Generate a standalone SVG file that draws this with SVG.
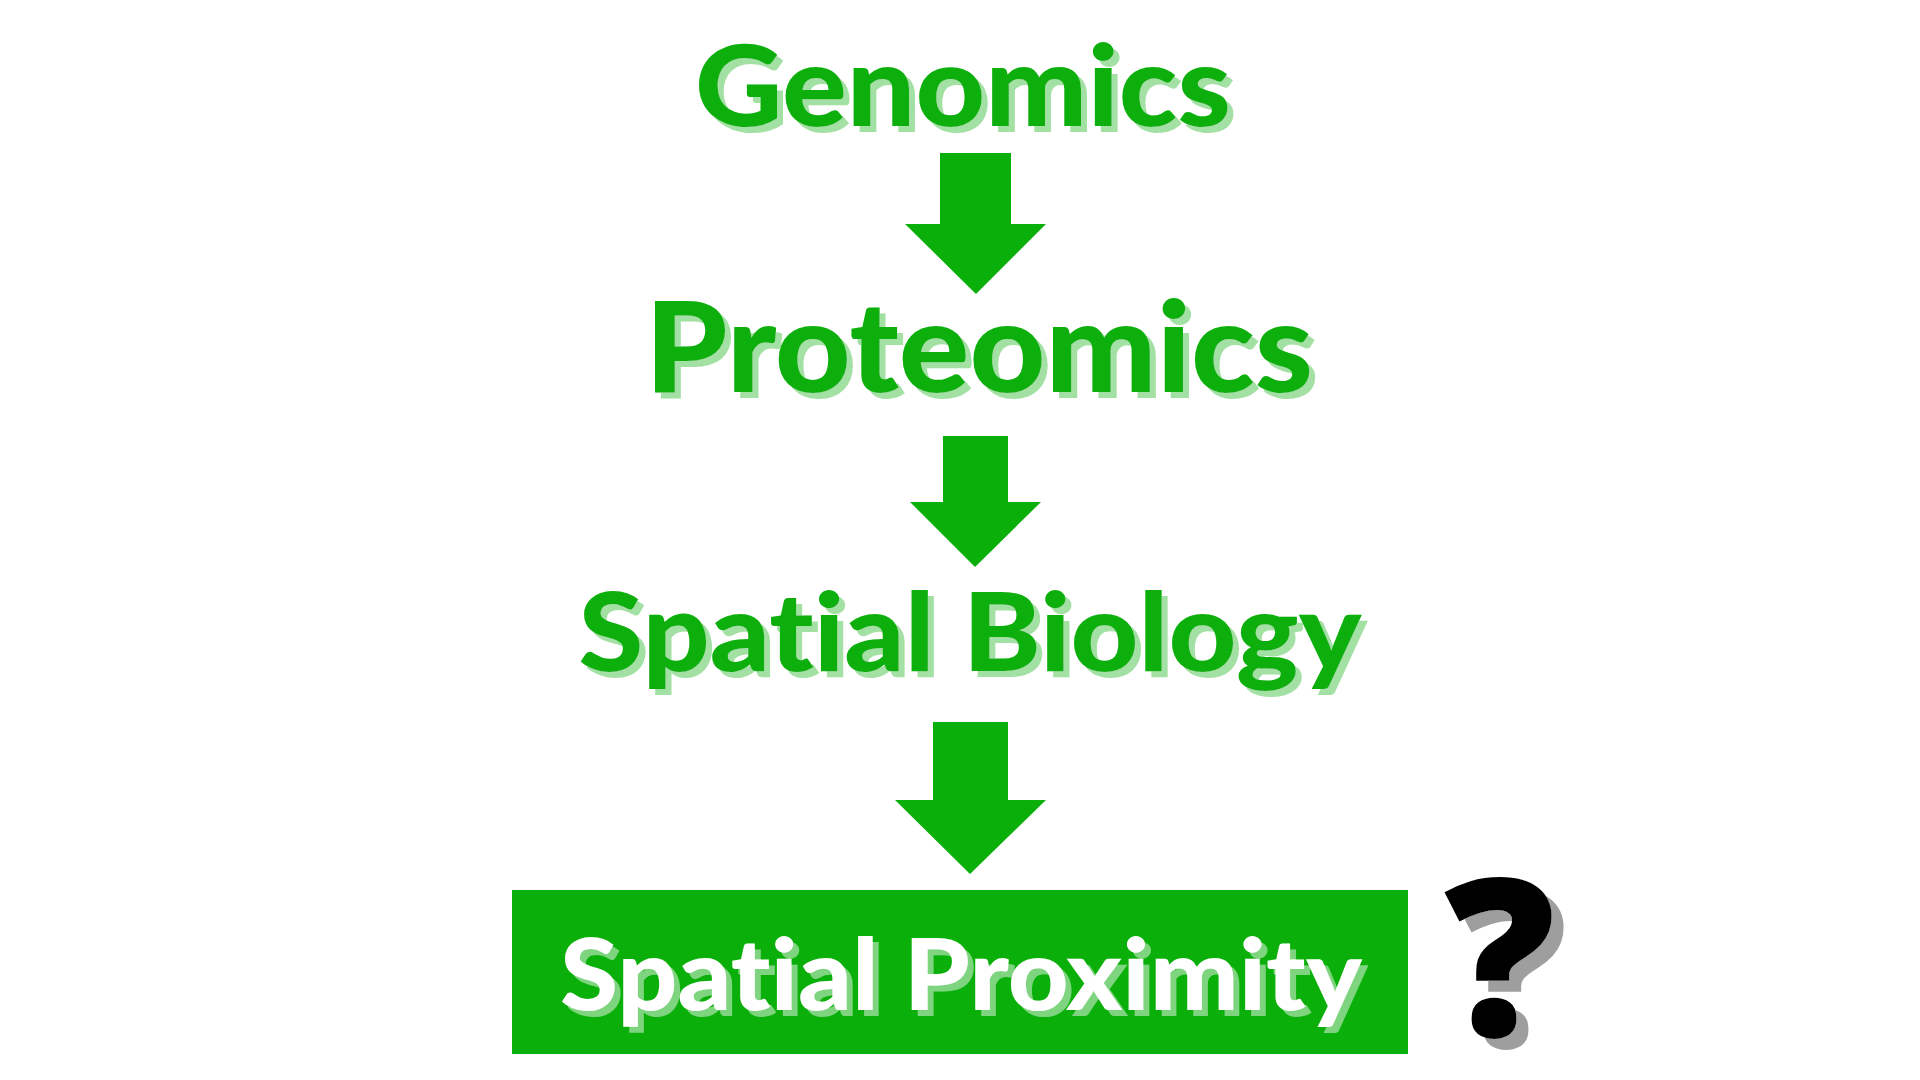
<svg xmlns="http://www.w3.org/2000/svg" width="1920" height="1080" viewBox="0 0 1920 1080">
<defs>
<filter id="shG" x="-10%" y="-30%" width="125%" height="170%">
<feOffset in="SourceAlpha" dx="6" dy="6" result="o"/>
<feFlood flood-color="#a3e0a3"/>
<feComposite in2="o" operator="in" result="s"/>
<feMerge><feMergeNode in="s"/><feMergeNode in="SourceGraphic"/></feMerge>
</filter>
<filter id="shW" x="-10%" y="-30%" width="125%" height="170%">
<feOffset in="SourceAlpha" dx="6" dy="6" result="o"/>
<feFlood flood-color="#7fd47f"/>
<feComposite in2="o" operator="in" result="s"/>
<feMerge><feMergeNode in="s"/><feMergeNode in="SourceGraphic"/></feMerge>
</filter>
<filter id="shK" x="-50%" y="-50%" width="200%" height="200%">
<feOffset in="SourceAlpha" dx="12" dy="11" result="o"/>
<feFlood flood-color="#9e9e9e"/>
<feComposite in2="o" operator="in" result="s"/>
<feMerge><feMergeNode in="s"/><feMergeNode in="SourceGraphic"/></feMerge>
</filter>
</defs>
<style>
.t{font-family:Lato,"Open Sans","Liberation Sans",sans-serif;font-weight:900;text-anchor:middle;font-variant-ligatures:none;font-feature-settings:"liga" 0,"clig" 0}
.g{fill:#0aaf0a;filter:url(#shG)}
.w{fill:#ffffff;filter:url(#shW)}
.q{font-family:"Open Sans","Liberation Sans",sans-serif;font-weight:800;text-anchor:middle;fill:#000000;filter:url(#shK)}
.arrow{fill:#0aaf0a}
</style>
<rect width="1920" height="1080" fill="#ffffff"/>
<g id="connectors">
<polygon class="arrow" points="940,153 1011,153 1011,224 1046,224 976,294 905,224 940,224"/>
<polygon class="arrow" points="943,436 1008,436 1008,502 1041,502 975,567 910,502 943,502"/>
<polygon class="arrow" points="933,722 1008,722 1008,800 1046,800 970,874 895,800 933,800"/>
</g>
<g id="genomics">
<text class="t g" x="963" y="126" font-size="112" textLength="536" lengthAdjust="spacingAndGlyphs">Genomics</text>
</g>
<g id="proteomics">
<text class="t g" x="979" y="392" font-size="125" textLength="668" lengthAdjust="spacingAndGlyphs">Proteomics</text>
</g>
<g id="spatial-biology">
<text class="t g" x="970" y="671" font-size="108" textLength="783" lengthAdjust="spacingAndGlyphs">Spatial Biology</text>
</g>
<g id="spatial-proximity">
<rect x="512" y="890" width="896" height="164" fill="#0aaf0a"/>
<text class="t w" x="961" y="1010" font-size="100" textLength="802" lengthAdjust="spacingAndGlyphs">Spatial Proximity</text>
</g>
<g id="question">
<text class="q" x="1500" y="1036" font-size="220">?</text>
</g>
</svg>
